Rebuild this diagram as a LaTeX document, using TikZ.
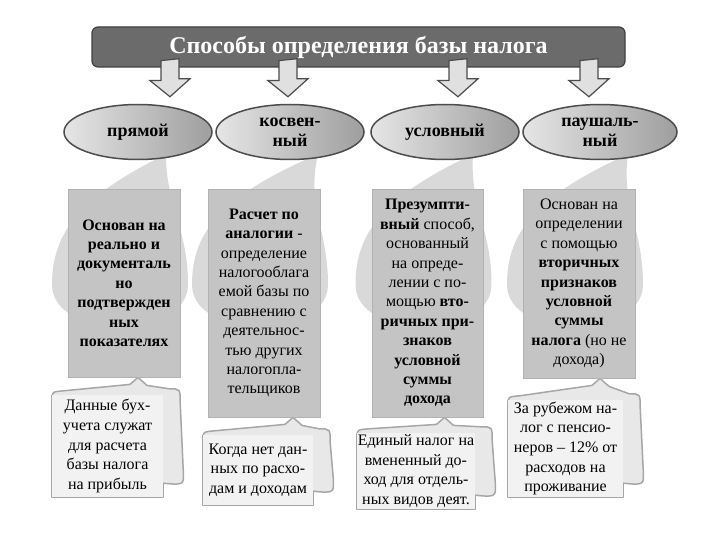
\documentclass[tikz,border=0pt]{standalone}
\usepackage{fontspec}
\setmainfont{Liberation Serif}
\usetikzlibrary{shapes.geometric,calc}

\newcommand{\boxfont}{\fontsize{16}{19.4}\selectfont}
\pgfdeclarelayer{bg}
\pgfsetlayers{bg,main}

\begin{document}
\begin{tikzpicture}[x=1pt, y=-1pt,
    titlebox/.style={draw=black!75, line width=1.2pt, fill=black!58, rounded corners=6pt,
      text=white, font=\fontsize{24}{27}\selectfont\bfseries, minimum width=533, minimum height=40},
    blockarrow/.style={draw=black!70, line width=1.2pt, fill=black!12, line join=miter},
    method/.style={ellipse, draw=black!70, line width=1.5pt, left color=black!10, right color=black!38,
      minimum width=148, minimum height=55, inner sep=0pt, align=center,
      font=\fontsize{18}{20}\selectfont\bfseries},
    infobox/.style={draw=black!30, line width=0.8pt, fill=black!23, minimum width=112,
      inner sep=0pt, align=center, font=\boxfont},
    notebox/.style={fill=black!5, inner sep=0pt, align=center, font=\fontsize{16}{19.6}\selectfont},
    noteline/.style={draw=black!35, line width=1.5pt, fill=black!9, line join=round},
    dropfill/.style={fill=black!15}
  ]
  \useasboundingbox (0,0) rectangle (720,540);

  % Title
  \node[titlebox] (title) at (358.5,47) {Способы определения базы налога};

  % Methods
  \node[method] (m1) at (138,132) {прямой};
  \node[method] (m2) at (290,132) {косвен-\\ный};
  \node[method] (m3) at (445,132) {условный};
  \node[method, minimum width=154] (m4) at (600,132) {паушаль-\\ный};

  % Arrows from title
  \coordinate (a1) at (170,0);
  \coordinate (a2) at (288,0);
  \coordinate (a3) at (458,0);
  \coordinate (a4) at (589,0);
  \foreach \a/\m in {a1/m1, a2/m2, a3/m3, a4/m4}
    \draw[blockarrow] ($(\a |- title.south)+(-9,-7)$) -- ++(0,20) -- ++(-11,0)
      -- ($(\a |- \m.north)+(0,-7)$) -- ++(20,-18) -- ++(-11,0) -- ++(0,-20) -- cycle;

  % Descriptions
  \node[infobox, minimum height=188, font=\boxfont\bfseries] (b1) at (124,283)
    {Основан на\\реально и\\документаль\\но\\подтвержден\\ных\\показателях};
  \node[infobox, minimum height=228] (b2) at (264,303)
    {\textbf{Расчет по}\\\textbf{аналогии} -\\определение\\налогооблага\\емой базы по\\сравнению с\\деятельнос-\\тью других\\налогопла-\\тельщиков};
  \node[infobox, minimum width=111, minimum height=228] (b3) at (427.5,303)
    {\textbf{Презумпти-}\\\textbf{вный} способ,\\основанный\\на опреде-\\лении с по-\\мощью \textbf{вто-}\\\textbf{ричных при-}\\\textbf{знаков}\\\textbf{условной}\\\textbf{суммы}\\\textbf{дохода}};
  \node[infobox, minimum height=189] (b4) at (579,283.5)
    {Основан на\\определении\\с помощью\\\textbf{вторичных}\\\textbf{признаков}\\\textbf{условной}\\\textbf{суммы}\\\textbf{налога} (но не\\дохода)};

  % Examples
  \node[notebox, minimum width=111, minimum height=102] (c1) at (107.5,446)
    {Данные бух-\\учета служат\\для расчета\\базы налога\\на прибыль};
  \node[notebox, minimum width=110, minimum height=70] (c2) at (258,470)
    {Когда нет дан-\\ных по расхо-\\дам и доходам};
  \node[notebox, minimum width=118, minimum height=76] (c3) at (416,471)
    {Единый налог на\\вмененный до-\\ход для отдель-\\ных видов деят.};
  \node[notebox, minimum width=115, minimum height=97] (c4) at (565.5,448.5)
    {За рубежом на-\\лог с пенсио-\\неров – 12\% от\\расходов на\\проживание};

  \begin{pgfonlayer}{bg}
    % Drops behind descriptions
    \foreach \m/\b in {m1/b1, m2/b2, m3/b3, m4/b4}
      \fill[dropfill] ($(\m.south)+(28,-6)$)
        .. controls ($(\b.north)+(-45,8)$) and ($(\b.north)+(-72,45)$) .. ($(\b.north)+(-72,96)$)
        .. controls ($(\b.north)+(-72,152)$) and ($(\b.north)+(64,152)$) .. ($(\b.north)+(64,96)$)
        .. controls ($(\b.north)+(64,40)$) and ($(\b.north)+(42,18)$) .. ($(\m.south)+(28,-6)$) -- cycle;
    % Callout outlines
    \foreach \c/\b/\p in {c1/b1/14, c2/b2/29, c3/b3/17, c4/b4/21}
      \filldraw[noteline] ($(\c.north west)+(0,6)$)
        .. controls ($(\c.north west)+(0,-3)$) .. ($(\c.north west)+(12,-4)$)
        -- ($(\b.south)+(\p-8,7)$) -- ($(\b.south)+(\p,0)$) -- ($(\b.south)+(\p+9,8)$)
        -- ($(\c.north east)+(6,-6)$)
        .. controls ($(\c.north east)+(17,-6)$) .. ($(\c.north east)+(17,8)$)
        -- ($(\c.south east)+(20,-28)$)
        .. controls ($(\c.south east)+(21,-12)$) .. ($(\c.south east)+(0,-14)$)
        -- (\c.south east) -- (\c.south west) -- cycle;
  \end{pgfonlayer}
\end{tikzpicture}
\end{document}
